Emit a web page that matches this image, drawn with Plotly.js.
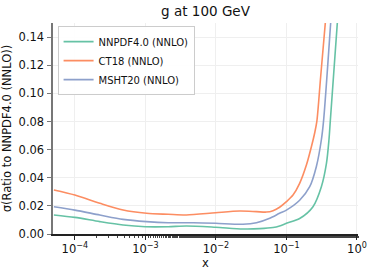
<!DOCTYPE html>
<html>
<head>
<meta charset="utf-8">
<script src="https://cdn.plot.ly/plotly-3.0.1.min.js"></script>
<style>html,body{margin:0;padding:0;background:#fff}#chart{width:374px;height:275px}</style>
</head>
<body>
<div id="chart"></div>
<script>
// NNPDF4.0 (NNLO)
const nnpdfX = [5.04e-5, 1e-4, 2.26e-4, 4.83e-4, 1.0e-3, 2.1e-3, 3.82e-3, 9.9e-3, 0.0242, 0.042, 0.0646, 0.080, 0.1, 0.154, 0.238, 0.313, 0.369, 0.401, 0.42, 0.527];
const nnpdfY = [0.0135, 0.0118, 0.0088, 0.0064, 0.0052, 0.0052, 0.0057, 0.0048, 0.0036, 0.0038, 0.0046, 0.0057, 0.0076, 0.011, 0.0194, 0.0336, 0.050, 0.067, 0.081, 0.15];
// CT18 (NNLO)
const ct18X = [5.04e-5, 1e-4, 2.26e-4, 4.83e-4, 1.04e-3, 2.1e-3, 3.82e-3, 9.9e-3, 0.0217, 0.0376, 0.052, 0.0646, 0.080, 0.1, 0.124, 0.154, 0.192, 0.226, 0.252, 0.27, 0.306, 0.356];
const ct18Y = [0.0313, 0.0277, 0.0218, 0.017, 0.0147, 0.014, 0.0135, 0.0151, 0.0163, 0.0159, 0.0156, 0.0166, 0.019, 0.023, 0.0277, 0.036, 0.049, 0.062, 0.072, 0.080, 0.112, 0.15];
// MSHT20 (NNLO)
const mshtX = [5.04e-5, 1e-4, 2.26e-4, 4.83e-4, 1.04e-3, 2.1e-3, 4.8e-3, 9.9e-3, 0.0242, 0.0376, 0.058, 0.080, 0.1, 0.154, 0.214, 0.266, 0.313, 0.337, 0.424];
const mshtY = [0.0194, 0.017, 0.0135, 0.0104, 0.0088, 0.008, 0.008, 0.0076, 0.0069, 0.008, 0.0112, 0.0147, 0.017, 0.024, 0.0336, 0.048, 0.067, 0.081, 0.15];

const seriesNames = ["NNPDF4.0 (NNLO)", "CT18 (NNLO)", "MSHT20 (NNLO)"];
const seriesColors = ["#66c2a5", "#fc8d62", "#8da0cb"];
const xTickVals = [1e-4, 1e-3, 1e-2, 1e-1, 1];
const xTickText = ["10<sup>−4</sup>", "10<sup>−3</sup>", "10<sup>−2</sup>", "10<sup>−1</sup>", "10<sup>0</sup>"];
const yTickVals = [0, 0.02, 0.04, 0.06, 0.08, 0.10, 0.12, 0.14];
const yTickText = ["0.00", "0.02", "0.04", "0.06", "0.08", "0.10", "0.12", "0.14"];

const xs = [nnpdfX, ct18X, mshtX];
const ys = [nnpdfY, ct18Y, mshtY];
const traces = seriesNames.map((n, i) => ({
  x: xs[i], y: ys[i], name: n, type: 'scatter', mode: 'lines',
  line: {color: seriesColors[i], width: 1.6, shape: 'spline', smoothing: 0.8},
  cliponaxis: true
}));

const font = {family: 'DejaVu Sans, sans-serif', color: '#111', size: 11};
const layout = {
  width: 374, height: 275,
  margin: {l: 53, r: 16, t: 23, b: 41},
  paper_bgcolor: '#fff', plot_bgcolor: '#fff',
  font: font,
  title: {text: 'g at 100 GeV', x: 0.5, xref: 'paper', xanchor: 'center', y: 0.975, yref: 'container', yanchor: 'top', font: {family: 'DejaVu Sans, sans-serif', size: 13.5, color: '#111'}},
  xaxis: {
    type: 'log', range: [-4.31, 0.015],
    tickvals: xTickVals, ticktext: xTickText,
    ticks: 'outside', ticklen: 4, tickwidth: 1, tickcolor: '#222',
    showline: true, linecolor: '#222', linewidth: 1.5,
    showgrid: true, gridcolor: '#efefef', gridwidth: 1,
    zeroline: false,
    minor: {ticks: 'outside', ticklen: 2, tickcolor: '#444', showgrid: false},
    title: {text: 'x', font: {size: 11.5}, standoff: 3},
    tickfont: {size: 11.5}
  },
  yaxis: {
    range: [0, 0.15],
    tickvals: yTickVals, ticktext: yTickText,
    ticks: 'outside', ticklen: 4, tickwidth: 1, tickcolor: '#777',
    showline: true, linecolor: '#777', linewidth: 2.5,
    showgrid: true, gridcolor: '#efefef', gridwidth: 1,
    zeroline: false,
    title: {text: 'σ(Ratio to NNPDF4.0 (NNLO))', font: {size: 11.5}, standoff: 6},
    tickfont: {size: 11.5}
  },
  legend: {
    x: 0.015, y: 0.985, xanchor: 'left', yanchor: 'top',
    bgcolor: 'rgba(255,255,255,0.9)', bordercolor: '#ccc', borderwidth: 1,
    font: {size: 10, color: '#111'},
    tracegroupgap: 0, itemwidth: 30
  },
  showlegend: true
};
Plotly.newPlot('chart', traces, layout, {staticPlot: true, displayModeBar: false});
</script>
</body>
</html>
